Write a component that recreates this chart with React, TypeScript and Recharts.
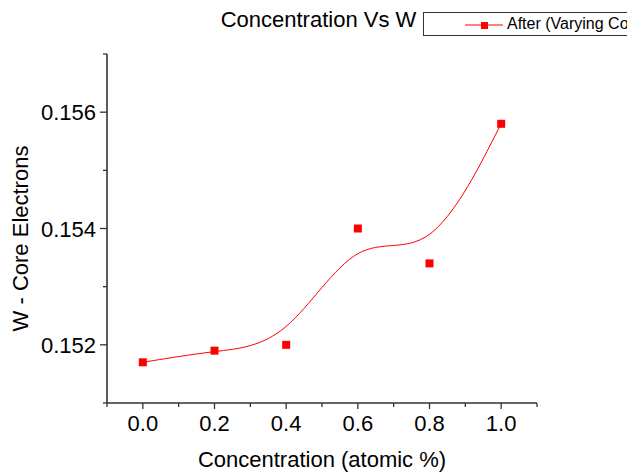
import { Line, LineChart, XAxis, YAxis } from "recharts"

const concentration = [0, 0.2, 0.4, 0.6, 0.8, 1.0]
const wCoreElectrons = [0.1517, 0.1519, 0.152, 0.154, 0.1534, 0.1558]
const xTicks = [-0.1, 0, 0.1, 0.2, 0.3, 0.4, 0.5, 0.6, 0.7, 0.8, 0.9, 1.0, 1.1]
const xMajor = [0, 0.2, 0.4, 0.6, 0.8, 1.0]
const yTicks = [0.151, 0.152, 0.153, 0.154, 0.155, 0.156, 0.157]
const yMajor = [0.152, 0.154, 0.156]

const data = concentration.map((c, i) => ({ c, w: wCoreElectrons[i] }))

const AXIS = "#333"
const RED = "#ff0000"
const FONT = "'Liberation Sans', Arial, sans-serif"

const isIn = (list: number[], v: number) => list.some((m) => Math.abs(m - v) < 1e-9)

const XTick = (props: any) => {
  const { x, y, payload } = props
  const major = isIn(xMajor, payload.value)
  return (
    <g>
      <line x1={x} x2={x} y1={y} y2={y + (major ? 6 : 4)} stroke={AXIS} strokeWidth={1.3} />
      {major && (
        <text x={x} y={y + 28} textAnchor="middle" fontSize={22} fill="#000" fontFamily={FONT}>
          {payload.value.toFixed(1)}
        </text>
      )}
    </g>
  )
}

const YTick = (props: any) => {
  const { x, y, payload } = props
  const major = isIn(yMajor, payload.value)
  return (
    <g>
      <line x1={x} x2={x - (major ? 7 : 4)} y1={y} y2={y} stroke={AXIS} strokeWidth={1.3} />
      {major && (
        <text x={x - 11} y={y + 8} textAnchor="end" fontSize={22} fill="#000" fontFamily={FONT}>
          {payload.value.toFixed(3)}
        </text>
      )}
    </g>
  )
}

const SquareDot = (props: any) => {
  const { cx, cy, index } = props
  return <rect key={`dot-${index}`} x={cx - 4} y={cy - 4} width={8} height={8} fill={RED} />
}

const App = () => {
  return (
    <div
      style={{
        position: "absolute",
        left: 0,
        top: 0,
        width: 627,
        height: 476,
        overflow: "hidden",
        background: "#fff",
        fontFamily: FONT,
      }}
    >
      <LineChart
        width={627}
        height={476}
        data={data}
        margin={{ top: 54, right: 90, bottom: 0, left: 0 }}
      >
        <XAxis
          dataKey="c"
          type="number"
          domain={[-0.1, 1.1]}
          ticks={xTicks}
          interval={0}
          height={73}
          tickLine={false}
          tickSize={0}
          tickMargin={0}
          tick={<XTick />}
          axisLine={{ stroke: AXIS, strokeWidth: 1.6 }}
          label={{
            value: "Concentration (atomic %)",
            position: "insideBottom",
            offset: 9,
            fontSize: 22,
            fill: "#000",
            fontFamily: FONT,
          }}
        />
        <XAxis
          xAxisId="top"
          orientation="top"
          type="number"
          domain={[-0.1, 1.1]}
          height={0}
          tick={false}
          tickLine={false}
          axisLine={{ stroke: AXIS, strokeWidth: 1.6 }}
        />
        <YAxis
          type="number"
          domain={[0.151, 0.157]}
          ticks={yTicks}
          interval={0}
          width={107}
          tickLine={false}
          tickSize={0}
          tickMargin={0}
          tick={<YTick />}
          axisLine={{ stroke: AXIS, strokeWidth: 1.6 }}
          label={{
            position: "insideLeft",
            content: (p: any) => {
              const vb = p.viewBox
              const cy = vb.y + vb.height / 2 + 10
              return (
                <text
                  x={28}
                  y={cy}
                  transform={`rotate(-90, 28, ${cy})`}
                  textAnchor="middle"
                  fontSize={22}
                  fill="#000"
                  fontFamily={FONT}
                >
                  W - Core Electrons
                </text>
              )
            },
          }}
        />
        <YAxis
          yAxisId="right"
          orientation="right"
          type="number"
          domain={[0.151, 0.157]}
          width={0}
          tick={false}
          tickLine={false}
          axisLine={{ stroke: AXIS, strokeWidth: 1.6 }}
        />
        <Line
          type="basis"
          dataKey="w"
          stroke={RED}
          strokeWidth={1}
          dot={<SquareDot />}
          activeDot={false}
          isAnimationActive={false}
        />
      </LineChart>

      <div
        style={{
          position: "absolute",
          left: 0,
          width: 637,
          top: 9,
          textAlign: "center",
          fontSize: 22,
          lineHeight: "22px",
          color: "#000",
        }}
      >
        Concentration Vs W
      </div>

      <div
        style={{
          position: "absolute",
          left: 423,
          top: 12,
          width: 280,
          height: 22,
          border: `1px solid ${AXIS}`,
          whiteSpace: "nowrap",
        }}
      >
        <svg width={80} height={22} style={{ position: "absolute", left: 0, top: 0 }}>
          <line x1={41} x2={79} y1={12} y2={12} stroke={RED} strokeWidth={1} />
          <rect x={57} y={9} width={7} height={7} fill={RED} />
        </svg>
        <span
          style={{
            position: "absolute",
            left: 83,
            top: 2,
            fontSize: 16,
            lineHeight: "18px",
            color: "#000",
          }}
        >
          After (Varying Concentration)
        </span>
      </div>
    </div>
  )
}

export default App
